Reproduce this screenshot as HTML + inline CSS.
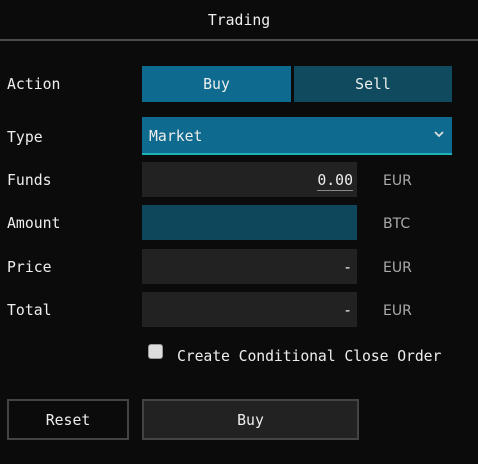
<!DOCTYPE html>
<html><head><meta charset="utf-8"><style>
html,body{margin:0;padding:0;background:#0b0b0b;width:478px;height:464px;overflow:hidden}
*{box-sizing:border-box}
.a{position:absolute}
.m{font-family:"DejaVu Sans Mono","Liberation Mono",monospace;font-size:14.8px;color:#eee}
.s{font-family:"DejaVu Sans","Liberation Sans",sans-serif;font-size:14px;color:#aaa}
.lab{left:7px;height:20px;line-height:20px}
.unit{left:383px;height:20px;line-height:20px}
.box{left:142px;width:215px;height:35px;background:#222}
.ctr{display:flex;align-items:center;justify-content:center}
</style></head><body>
<div class="a m" style="left:0;top:10px;width:478px;text-align:center;line-height:22px">Trading</div>
<div class="a" style="left:0;top:39px;width:478px;height:2px;background:#4a4a4a"></div>

<div class="a m lab" style="top:75px">Action</div>
<div class="a m ctr" style="left:142px;top:66px;width:149px;height:36px;background:#0e6b8f">Buy</div>
<div class="a m ctr" style="left:294px;top:66px;width:158px;height:36px;background:#0f4a5e">Sell</div>

<div class="a m lab" style="top:128px">Type</div>
<div class="a m" style="left:142px;top:117px;width:310px;height:38px;background:#0e6b8f;border-bottom:2px solid #19b3b8;padding-left:7px;line-height:39px">Market
<svg class="a" style="right:8px;top:14px" width="10" height="7" viewBox="0 0 10 7"><path d="M1 1 L5 5 L9 1" stroke="#ddd" stroke-width="1.8" fill="none"/></svg></div>

<div class="a m lab" style="top:171px">Funds</div>
<div class="a m box" style="top:162px;text-align:right;padding-right:4px;line-height:37px"><span style="border-bottom:1px solid #888;line-height:18px;display:inline-block">0.00</span></div>
<div class="a s unit" style="top:171px">EUR</div>

<div class="a m lab" style="top:214px">Amount</div>
<div class="a m box" style="top:205px;background:#0e465c"></div>
<div class="a s unit" style="top:214px">BTC</div>

<div class="a m lab" style="top:258px">Price</div>
<div class="a m box" style="top:249px;text-align:right;padding-right:5px;line-height:37px">-</div>
<div class="a s unit" style="top:258px">EUR</div>

<div class="a m lab" style="top:301px">Total</div>
<div class="a m box" style="top:292px;text-align:right;padding-right:5px;line-height:37px">-</div>
<div class="a s unit" style="top:301px">EUR</div>

<div class="a" style="left:148px;top:344px;width:15px;height:15px;background:#ddd;border-radius:3px;border:1px solid #999"></div>
<div class="a m" style="left:177px;top:347px;line-height:20px;letter-spacing:-0.1px">Create Conditional Close Order</div>

<div class="a m ctr" style="left:7px;top:399px;width:122px;height:41px;border:2px solid #444;background:#0b0b0b;padding-top:2px">Reset</div>
<div class="a m ctr" style="left:142px;top:399px;width:217px;height:41px;border:2px solid #444;background:#222;padding-top:2px">Buy</div>
</body></html>
